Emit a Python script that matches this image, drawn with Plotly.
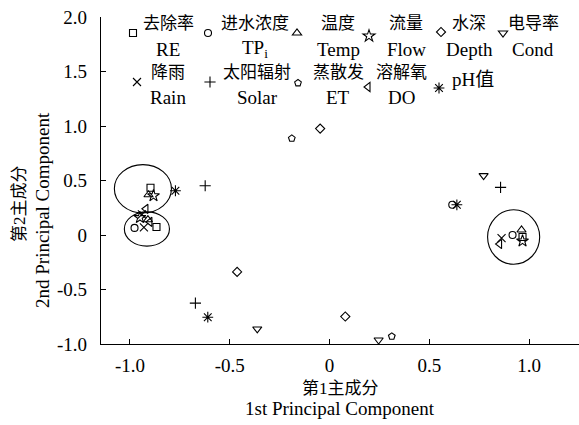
import plotly.graph_objects as go

# ---- data (PCA loadings) ----
var_cn = ["去除率", "进水浓度", "温度", "流量", "水深", "电导率",
          "降雨", "太阳辐射", "蒸散发", "溶解氧", "pH值"]
var_en = ["RE", "TP<sub>i</sub>", "Temp", "Flow", "Depth", "Cond",
          "Rain", "Solar", "ET", "DO", ""]
symbols = ["square-open", "circle-open", "triangle-up-open", "star-open",
           "diamond-open", "triangle-down-open", "x-thin-open",
           "cross-thin-open", "pentagon-open", "triangle-left-open",
           "asterisk-open"]

pc1 = {
    "RE":    [-0.897, -0.867, 0.967],
    "TPi":   [-0.977, 0.615, 0.917],
    "Temp":  [-0.907, -0.910, 0.962],
    "Flow":  [-0.882, -0.950, 0.967],
    "Depth": [-0.047, -0.463, 0.079],
    "Cond":  [0.772, -0.362, 0.246],
    "Rain":  [-0.940, -0.930, 0.862],
    "Solar": [-0.623, -0.672, 0.857],
    "ET":    [-0.189, 0.312],
    "DO":    [-0.920, -0.900, 0.852],
    "pH":    [-0.772, -0.610, 0.638],
}
pc2 = {
    "RE":    [0.434, 0.074, -0.018],
    "TPi":   [0.065, 0.277, 0.000],
    "Temp":  [0.369, 0.140, 0.046],
    "Flow":  [0.360, 0.160, -0.055],
    "Depth": [0.976, -0.339, -0.748],
    "Cond":  [0.545, -0.862, -0.963],
    "Rain":  [0.190, 0.070, -0.028],
    "Solar": [0.452, -0.625, 0.437],
    "ET":    [0.886, -0.930],
    "DO":    [0.240, 0.120, -0.083],
    "pH":    [0.406, -0.754, 0.277],
}
keys = ["RE", "TPi", "Temp", "Flow", "Depth", "Cond",
        "Rain", "Solar", "ET", "DO", "pH"]

# cluster ellipses (x0, x1, y0, y1 in PC units)
ellipses = [(-1.078, -0.792, 0.203, 0.646),
            (-1.028, -0.802, -0.102, 0.212),
            (0.792, 1.053, -0.268, 0.231)]

xticks = [-1.0, -0.5, 0, 0.5, 1.0]
xticktext = ["-1.0", "-0.5", "0", "0.5", "1.0"]
yticks = [-1.0, -0.5, 0, 0.5, 1.0, 1.5, 2.0]
yticktext = ["-1.0", "-0.5", "0", "0.5", "1.0", "1.5", "2.0"]

# ---- layout constants ----
W, H = 579, 425
L, R, T, B = 101, 0, 17, 81
pw, ph = W - L - R, H - T - B
FONT = "Liberation Serif, Noto Sans CJK SC"
CN_SIZE, EN_SIZE = 17, 19

def px2paper(px, py):
    return (px - L) / pw, (H - B - py) / ph

# legend marker pixel positions and text centres
leg_marker = [(133, 33), (208, 33), (297, 33), (369, 36), (441, 32), (503, 33),
              (137, 82), (210, 82), (298, 83), (368, 87), (439, 88)]
leg_text_x = [168, 255, 338, 406, 469, 533, 168, 257, 338, 401, 473]

sizes = {"star-open": 9, "asterisk-open": 9, "x-thin-open": 8,
         "cross-thin-open": 8, "circle-open": 7, "square-open": 7,
         "diamond-open": 7, "pentagon-open": 7}

fig = go.Figure()
legend_layout = {}
for i, k in enumerate(keys):
    lname = "legend" if i == 0 else f"legend{i+1}"
    sym = symbols[i]
    fig.add_trace(go.Scatter(
        x=pc1[k], y=pc2[k], mode="markers", name="",
        legend=lname, showlegend=True,
        marker=dict(symbol=sym, size=sizes.get(sym, 8), color="black",
                    line=dict(color="black", width=1.1)),
    ))
    mx, my = leg_marker[i]
    xp, yp = px2paper(mx - 20, my)
    legend_layout[lname] = dict(x=xp, y=yp, xanchor="left", yanchor="middle",
                                bgcolor="rgba(0,0,0,0)", borderwidth=0,
                                font=dict(size=10, family=FONT),
                                itemsizing="trace")

def ann(text, px, py, size, angle=0):
    xp, yp = px2paper(px, py)
    return dict(x=xp, y=yp, xref="paper", yref="paper", text=text,
                showarrow=False, xanchor="center", yanchor="middle",
                textangle=angle,
                font=dict(size=size, family=FONT, color="black"))

annotations = []
for i in range(len(keys)):
    tx = leg_text_x[i]
    if var_en[i]:
        row_top = 23 if i < 6 else 72
        annotations.append(ann(var_cn[i], tx, row_top, CN_SIZE))
        annotations.append(ann(var_en[i], tx, row_top + 26, EN_SIZE))
    else:
        annotations.append(ann(var_cn[i], tx, 80, EN_SIZE))

# axis titles
annotations.append(ann("第1主成分", 340, 388, CN_SIZE))
annotations.append(ann("1st Principal Component", 340, 408, EN_SIZE))
annotations.append(ann("第2主成分", 19, 204, CN_SIZE, -90))
annotations.append(ann("2nd Principal Component", 43, 210, EN_SIZE, -90))

shapes = [dict(type="circle", xref="x", yref="y", x0=e[0], x1=e[1], y0=e[2], y1=e[3],
               line=dict(color="black", width=1.1)) for e in ellipses]

fig.update_layout(
    width=W, height=H,
    margin=dict(l=L, r=R, t=T, b=B),
    paper_bgcolor="white", plot_bgcolor="white",
    font=dict(family=FONT, size=EN_SIZE, color="black"),
    annotations=annotations, shapes=shapes,
    **legend_layout,
)
fig.update_xaxes(range=[-1.145, 1.25], showgrid=False, zeroline=False,
                 showline=True, linecolor="black", linewidth=1.2,
                 ticks="inside", ticklen=5, tickcolor="black", tickwidth=1.2,
                 tickvals=xticks, ticktext=xticktext, ticklabelstandoff=4,
                 tickfont=dict(size=EN_SIZE, family=FONT, color="black"))
fig.update_yaxes(range=[-1.0, 2.0], showgrid=False, zeroline=False,
                 showline=True, linecolor="black", linewidth=1.2,
                 ticks="inside", ticklen=5, tickcolor="black", tickwidth=1.2,
                 tickvals=yticks, ticktext=yticktext, ticklabelstandoff=9,
                 tickfont=dict(size=EN_SIZE, family=FONT, color="black"))

fig.write_html("out.html")
